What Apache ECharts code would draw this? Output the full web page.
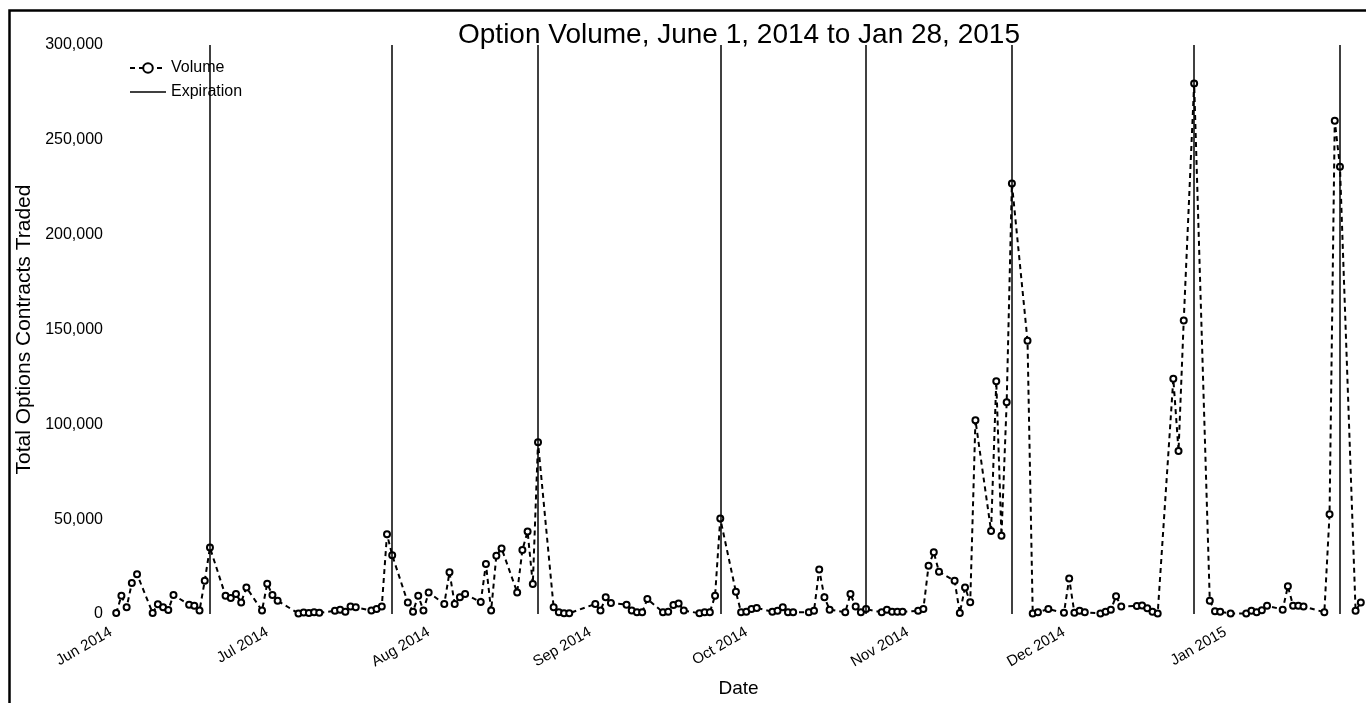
<!DOCTYPE html>
<html>
<head>
<meta charset="utf-8">
<script src="https://cdn.jsdelivr.net/npm/echarts@6/dist/echarts.min.js"></script>
<style>
html,body{margin:0;padding:0;background:#fff;}
#chart{width:1366px;height:703px;}
</style>
</head>
<body>
<div id="chart"></div>
<script>
var dates = [
'2014-06-02','2014-06-03','2014-06-04','2014-06-05','2014-06-06',
'2014-06-09','2014-06-10','2014-06-11','2014-06-12','2014-06-13',
'2014-06-16','2014-06-17','2014-06-18','2014-06-19','2014-06-20',
'2014-06-23','2014-06-24','2014-06-25','2014-06-26','2014-06-27',
'2014-06-30','2014-07-01','2014-07-02','2014-07-03',
'2014-07-07','2014-07-08','2014-07-09','2014-07-10','2014-07-11',
'2014-07-14','2014-07-15','2014-07-16','2014-07-17','2014-07-18',
'2014-07-21','2014-07-22','2014-07-23','2014-07-24','2014-07-25',
'2014-07-28','2014-07-29','2014-07-30','2014-07-31','2014-08-01',
'2014-08-04','2014-08-05','2014-08-06','2014-08-07','2014-08-08',
'2014-08-11','2014-08-12','2014-08-13','2014-08-14','2014-08-15',
'2014-08-18','2014-08-19','2014-08-20','2014-08-21','2014-08-22',
'2014-08-25','2014-08-26','2014-08-27','2014-08-28',
'2014-09-02','2014-09-03','2014-09-04','2014-09-05',
'2014-09-08','2014-09-09','2014-09-10','2014-09-11','2014-09-12',
'2014-09-15','2014-09-16','2014-09-17','2014-09-18','2014-09-19',
'2014-09-22','2014-09-23','2014-09-24','2014-09-25','2014-09-26',
'2014-09-29','2014-09-30','2014-10-01','2014-10-02','2014-10-03',
'2014-10-06','2014-10-07','2014-10-08','2014-10-09','2014-10-10',
'2014-10-13','2014-10-14','2014-10-15','2014-10-16','2014-10-17',
'2014-10-20','2014-10-21','2014-10-22','2014-10-23','2014-10-24',
'2014-10-27','2014-10-28','2014-10-29','2014-10-30','2014-10-31',
'2014-11-03','2014-11-04','2014-11-05','2014-11-06','2014-11-07',
'2014-11-10','2014-11-11','2014-11-12','2014-11-13','2014-11-14',
'2014-11-17','2014-11-18','2014-11-19','2014-11-20','2014-11-21',
'2014-11-24','2014-11-25','2014-11-26','2014-11-28',
'2014-12-01','2014-12-02','2014-12-03','2014-12-04','2014-12-05',
'2014-12-08','2014-12-09','2014-12-10','2014-12-11','2014-12-12',
'2014-12-15','2014-12-16','2014-12-17','2014-12-18','2014-12-19',
'2014-12-22','2014-12-23','2014-12-24','2014-12-26',
'2014-12-29','2014-12-30','2014-12-31','2015-01-02',
'2015-01-05','2015-01-06','2015-01-07','2015-01-08','2015-01-09',
'2015-01-12','2015-01-13','2015-01-14','2015-01-15','2015-01-16',
'2015-01-20','2015-01-21','2015-01-22','2015-01-23',
'2015-01-26','2015-01-27'
];
var volume = [
500,9600,3500,16300,21000,
500,5200,3500,2100,10000,
4900,4400,1800,17500,35000,
9600,8500,10500,6100,14000,
1800,16000,10000,7000,
300,800,500,900,600,
1700,2200,1200,4000,3500,
1800,2600,4000,42000,31000,
6000,1200,9600,1800,11400,
5300,22000,5300,8800,10500,
6300,26300,1800,30700,34600,
11400,33800,43500,15800,90500,
3500,900,400,400,
5300,1800,8800,5800,
4900,1800,900,900,7900,
900,1200,4700,5600,1800,
400,900,900,9600,50300,
11700,900,1200,2600,3200,
1200,1700,3500,900,900,
900,1700,23400,8800,2300,
900,10500,4000,900,2600,
900,2300,1200,1200,1200,
1700,2600,25400,32500,22300,
17500,500,14000,6200,102200,
43800,122700,41200,111700,227000,
144100,300,900,2600,
600,18700,600,1700,900,
300,1200,2200,9300,4000,
4200,4500,3000,1200,300,
124000,86000,154800,279700,
7000,1500,1200,300,
300,1700,900,2000,4400,
2300,14600,4400,4400,4000,
900,52600,260000,235800,
1700,6100
];
var expirations = ['2014-06-20','2014-07-25','2014-08-22','2014-09-26','2014-10-24','2014-11-21','2014-12-26','2015-01-23'];
var monthTicks = ['2014-06-01','2014-07-01','2014-08-01','2014-09-01','2014-10-01','2014-11-01','2014-12-01','2015-01-01'];
var monthNames = ['Jan','Feb','Mar','Apr','May','Jun','Jul','Aug','Sep','Oct','Nov','Dec'];
var xStart = '2014-06-01', xEnd = '2015-01-28';

function ts(s){ var p = s.split('-'); return Date.UTC(+p[0], +p[1]-1, +p[2]); }

var FONT = '"Liberation Sans", Arial, Helvetica, sans-serif';
var chart = echarts.init(document.getElementById('chart'), null, {renderer:'canvas'});
var volData = dates.map(function(d,i){ return [ts(d), volume[i]]; });

chart.setOption({
  animation:false,
  backgroundColor:'#fff',
  textStyle:{fontFamily:FONT, color:'#000'},
  title:{
    text:'Option Volume, June 1, 2014 to Jan 28, 2015',
    left:453, top:16,
    textStyle:{fontSize:28, fontWeight:'normal', color:'#000', fontFamily:FONT}
  },
  legend:{
    orient:'vertical', left:124, top:55,
    itemWidth:36, itemHeight:12, itemGap:8,
    textStyle:{fontSize:16, color:'#000', fontFamily:FONT},
    data:[
      {name:'Volume'},
      {name:'Expiration', icon:'path://M0,10 L36,10 L36,11.5 L0,11.5 Z', itemStyle:{color:'#000'}}
    ]
  },
  grid:{left:111, top:45, width:1256, height:570, containLabel:false},
  xAxis:{
    type:'value',
    min:ts(xStart), max:ts(xEnd),
    name:'Date', nameLocation:'middle', nameGap:65,
    nameTextStyle:{fontSize:19, color:'#000', fontFamily:FONT},
    axisLine:{show:false}, axisTick:{show:false}, splitLine:{show:false},
    axisLabel:{
      rotate:30, fontSize:15, color:'#000', margin:17, fontFamily:FONT,
      customValues: monthTicks.map(ts),
      formatter:function(v){ var d=new Date(v); return monthNames[d.getUTCMonth()]+' '+d.getUTCFullYear(); }
    }
  },
  yAxis:{
    type:'value', min:0, max:300000, interval:50000,
    name:'Total Options Contracts Traded', nameLocation:'middle', nameGap:71,
    nameTextStyle:{fontSize:21, color:'#000', fontFamily:FONT},
    axisLine:{show:false}, axisTick:{show:false}, splitLine:{show:false},
    axisLabel:{
      fontSize:16, color:'#000', margin:8, fontFamily:FONT,
      formatter:function(v){ return Number(v).toLocaleString('en-US'); }
    }
  },
  graphic:[{
    type:'rect', silent:true, z:100,
    shape:{x:9.5, y:10.5, width:1400, height:800},
    style:{fill:'none', stroke:'#000', lineWidth:2.5}
  }],
  series:[
    {
      name:'Volume', type:'line', data:volData,
      symbol:'emptyCircle', symbolSize:6, showAllSymbol:true,
      lineStyle:{color:'#000', width:2, type:[5,4]},
      itemStyle:{color:'#000', borderColor:'#000', borderWidth:1.8},
      z:3
    },
    {
      name:'Expiration', type:'line', data:[], symbol:'none',
      lineStyle:{color:'#000', width:1.5, type:'solid'},
      itemStyle:{color:'#000'},
      markLine:{
        silent:true, symbol:['none','none'], label:{show:false},
        lineStyle:{color:'#000', width:1.5, type:'solid'},
        data: expirations.map(function(d){ return {xAxis:ts(d)}; })
      },
      z:2
    }
  ]
});
</script>
</body>
</html>
